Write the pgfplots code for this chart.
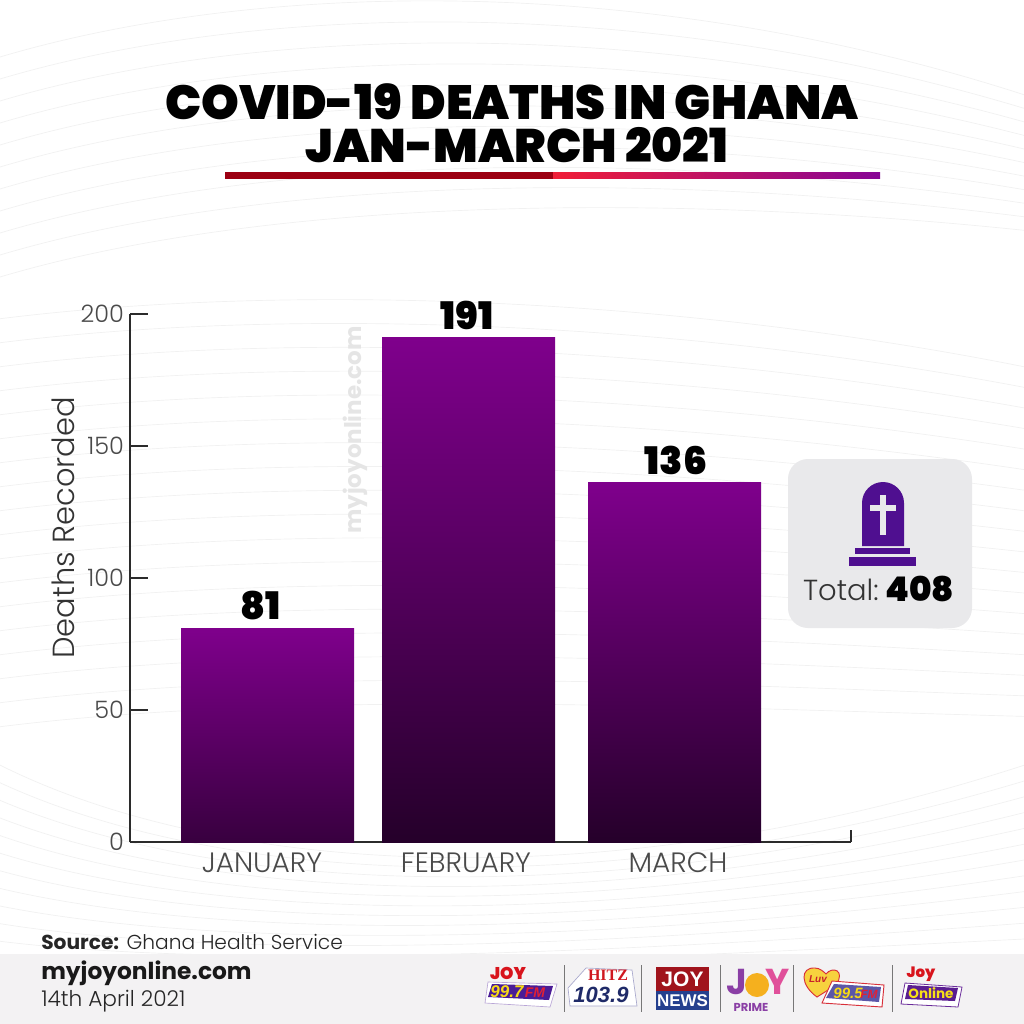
\documentclass[border=0pt]{standalone}
\usepackage{fontspec}
\usepackage{pgfplots}
\pgfplotsset{compat=1.18}
\usetikzlibrary{calc}
\setmainfont{Poppins Light}
\newfontfamily\pblack{Poppins Black}
\newfontfamily\pbold{Poppins}[UprightFont=*,BoldFont=* Bold]
\newfontfamily\lsans{Liberation Sans}
\newfontfamily\lserif{Liberation Serif}
\newcommand{\px}[1]{\fontsize{\fpeval{0.75*#1}pt}{\fpeval{0.9*#1}pt}\selectfont}
\definecolor{axisdark}{HTML}{2B2B2B}
\definecolor{ticktxt}{HTML}{4A4A4A}
\definecolor{barTop}{HTML}{7F008C}
\definecolor{barBot}{HTML}{25002A}
\definecolor{barBotJ}{HTML}{38003F}
\definecolor{wave}{HTML}{F1F1F1}
\definecolor{tomb}{HTML}{4F0F90}
\newcommand{\dc}[1]{\definecolor{c#1}{HTML}{#1}}
\dc{F3F2F3}\dc{9C0012}\dc{E9E9EB}\dc{777777}\dc{B9A6D6}\dc{4A1C96}\dc{D8141C}\dc{F6D916}\dc{E02035}\dc{A8A8CC}\dc{D01820}\dc{1F2A68}\dc{A0141C}\dc{24408E}\dc{8A3FA5}\dc{F5B01E}\dc{E0509A}\dc{F7D23E}\dc{D8303A}\dc{5B57A8}\dc{C8202A}\dc{6A2C9A}\dc{5A1E90}\dc{F6E016}
\definecolor{ulL}{RGB}{240,30,55}
\definecolor{ulR}{RGB}{135,5,150}
\begin{document}
\begin{tikzpicture}
\begin{scope}[x=0.75pt,y=-0.75pt]
\useasboundingbox (0,0) rectangle (1024,1024);
\fill[white] (0,0) rectangle (1024,1024);
\begin{scope}
\clip (0,0) rectangle (1024,1024);
\foreach \d in {0,22,...,240} {
  \draw[wave,line width=0.5pt] (-10,60+\d) .. controls (250,\d-20) and (650,\d-30) .. (1040,100+\d*0.6);
}
\foreach \d in {0,24,...,430} {
  \draw[wave,line width=0.5pt] (-10,320+\d) .. controls (300,280+\d) and (700,300+\d) .. (1040,370+\d*0.85);
}
\foreach \d in {0,18,...,200} {
  \draw[wave,line width=0.5pt] (-10,760+\d) .. controls (220,880+\d*0.5) and (620,900+\d*0.3) .. (1040,760+\d*0.9);
}
\end{scope}
\fill[cF3F2F3] (0,954) rectangle (1024,1024);
\end{scope}

\begin{axis}[
  at={(97.5pt,-631.5pt)},anchor=origin,
  scale only axis,width=540.75pt,height=396pt,
  xmin=130,xmax=851,ymin=0,ymax=200,
  axis x line*=bottom,axis y line*=left,
  axis line style={-,draw=axisdark,line width=1pt},
  clip=false,
  xtick={262,466,678},
  xticklabels={JANUARY,FEBRUARY,MARCH},
  ytick={0,50,100,150,200},
  tick style={draw=axisdark,line width=1pt},
  xtick style={draw=none},
  tick align=inside,
  major tick length=13.5pt,
  /pgf/number format/assume math mode=true,
  ticklabel style={text=ticktxt},
  yticklabel style={font=\px{24},xshift=-1pt},
  xticklabel style={font=\px{28},yshift=-4.5pt},
  ylabel={Deaths Recorded},
  ylabel style={font=\px{30.5},text=black!80,at={(axis description cs:-0.093,0.595)},anchor=center},
  nodes near coords style={font=\pblack\px{38},text=black,anchor=south,yshift=2.5pt},
]
\addplot[ybar,bar width=129.75pt,bar shift=0pt,draw=none,top color=barTop,bottom color=barBotJ] coordinates {(267.5,81)};
\addplot[ybar,bar width=129.75pt,bar shift=0pt,draw=none,top color=barTop,bottom color=barBot] coordinates {(468.5,191)};
\addplot[ybar,bar width=129.75pt,bar shift=0pt,draw=none,top color=barTop,bottom color=barBot] coordinates {(674.5,136)};
\addplot[draw=none,mark=none,nodes near coords] coordinates {(261,81)(467,191)(676,136)};
\draw[axisdark,line width=1pt] (axis cs:851,0) -- (axis cs:851,4.5);
\end{axis}

\begin{scope}[x=0.75pt,y=-0.75pt]
% title
\node[font=\pblack\px{48},anchor=center,inner sep=0] at (512,102) {COVID-19 DEATHS IN GHANA};
\node[font=\pblack\px{47},anchor=center,inner sep=0] at (517,145) {JAN-MARCH 2021};
\fill[c9C0012] (225,172) rectangle (553,178.5);
\shade[left color=ulL,right color=ulR] (553,172) rectangle (880,178.5);
% watermark
\node[rotate=90,font=\pbold\bfseries\px{23},text=black!10,inner sep=0] at (355,430) {myjoyonline.com};
% total box
\fill[cE9E9EB,rounded corners=15pt] (788,459) rectangle (972,628);
\fill[tomb] (862,546) -- (862,503) arc[start angle=180,end angle=360,radius=21] -- (904,546) -- cycle;
\fill[tomb] (855,548) rectangle (910,554);
\fill[tomb] (849,557) rectangle (916,566);
\fill[cE9E9EB] (880,495) rectangle (886,535);
\fill[cE9E9EB] (870,505) rectangle (896,510.5);
\node[anchor=base east,font=\px{29},text=black!80,inner sep=0] at (879,600) {Total:};
\node[anchor=base west,font=\pblack\px{34},inner sep=0] at (885,601) {408};
% footer
\node[anchor=base west,inner sep=0,font=\px{20.2},text=black!85] at (41,949) {{\pbold\bfseries Source:} Ghana Health Service};
\node[anchor=base west,inner sep=0,font=\pbold\bfseries\px{23.3},text=black!90] at (41,979) {myjoyonline.com};
\node[anchor=base west,inner sep=0,font=\px{21.7},text=black!85] at (41,1006) {14th April 2021};
% separators
\foreach \x in {564,641,720,793,892}
  \draw[c777777,line width=0.7pt] (\x,965) -- (\x,1012);
% logo 1
\fill[white] (488,982) -- (557,984) -- (550,1007) -- (485,1003) -- cycle;
\draw[cB9A6D6,line width=0.5pt] (488,982) -- (557,984) -- (550,1007) -- (485,1003) -- cycle;
\fill[c4A1C96] (492,984) -- (553,986) -- (549,1000) -- (488,997) -- cycle;
\node[font=\pblack\px{17},text=cD8141C,inner sep=0] at (508,973.5) {JOY};
\node[font=\lsans\bfseries\itshape\px{17},text=cF6D916,inner sep=0] at (507,992) {99.7};
\node[font=\lsans\bfseries\itshape\px{14},text=cE02035,inner sep=0] at (535,992.5) {FM};
% logo 2
\fill[white] (568,988) -- (586,968) -- (632,970) -- (637,1006) -- (570,1006) -- cycle;
\draw[cA8A8CC,line width=0.5pt] (568,988) -- (586,968) -- (632,970) -- (637,1006) -- (570,1006) -- cycle;
\node[font=\lserif\bfseries\px{16},text=cD01820,inner sep=0] at (608,975.5) {HITZ};
\node[font=\lsans\bfseries\itshape\px{22},text=c1F2A68,inner sep=0] at (601,995) {103.9};
% logo 3
\fill[cA0141C] (656,967) rectangle (709,991);
\fill[c24408E] (656,991) rectangle (709,1010);
\node[font=\lsans\bfseries\px{21},text=white,inner sep=0] at (682.5,979.5) {JOY};
\node[font=\lsans\bfseries\px{17},text=white,inner sep=0] at (682.5,1001) {NEWS};
% logo 4
\node[font=\pbold\bfseries\px{36},text=c8A3FA5,inner sep=0] at (737,982) {J};
\fill[cF5B01E] (757,985) circle[radius=12];
\node[font=\pbold\bfseries\px{36},text=cE0509A,inner sep=0] at (778,982) {Y};
\node[font=\pbold\bfseries\px{11.5},text=c8A3FA5,inner sep=0] at (751,1007.5) {PRIME};
% logo 5
\fill[cF7D23E,draw=cD8303A,line width=0.7pt] (817,997) .. controls (800,985) and (800,967) .. (815,968) .. controls (820,968) and (824,972) .. (826,974) .. controls (832,966) and (846,970) .. (836,985) -- cycle;
\fill[white,draw=cD8303A,line width=0.7pt] (832,981) -- (884,985) -- (882,1007) -- (822,1003) -- cycle;
\fill[c5B57A8] (834,984) -- (881,987) -- (879,1002) -- (826,998) -- cycle;
\node[font=\lsans\bfseries\itshape\px{10},text=cC8202A,inner sep=0] at (818,979) {Luv};
\node[font=\lsans\bfseries\itshape\px{15},text=cF6D916,inner sep=0] at (848,993) {99.5};
\node[font=\lsans\bfseries\itshape\px{12},text=cE02035,inner sep=0] at (869,994) {FM};
% logo 6
\fill[white,draw=c6A2C9A,line width=0.6pt] (905,983) -- (962,987) -- (958,1007) -- (901,1004) -- cycle;
\fill[c5A1E90] (908,985) -- (958,988) -- (955,1001) -- (905,999) -- cycle;
\node[font=\pblack\px{15},text=cD8141C,inner sep=0] at (921,974) {Joy};
\node[font=\pbold\bfseries\px{13.5},text=cF6E016,inner sep=0] at (931,993.5) {Online};
\end{scope}
\end{tikzpicture}
\end{document}
